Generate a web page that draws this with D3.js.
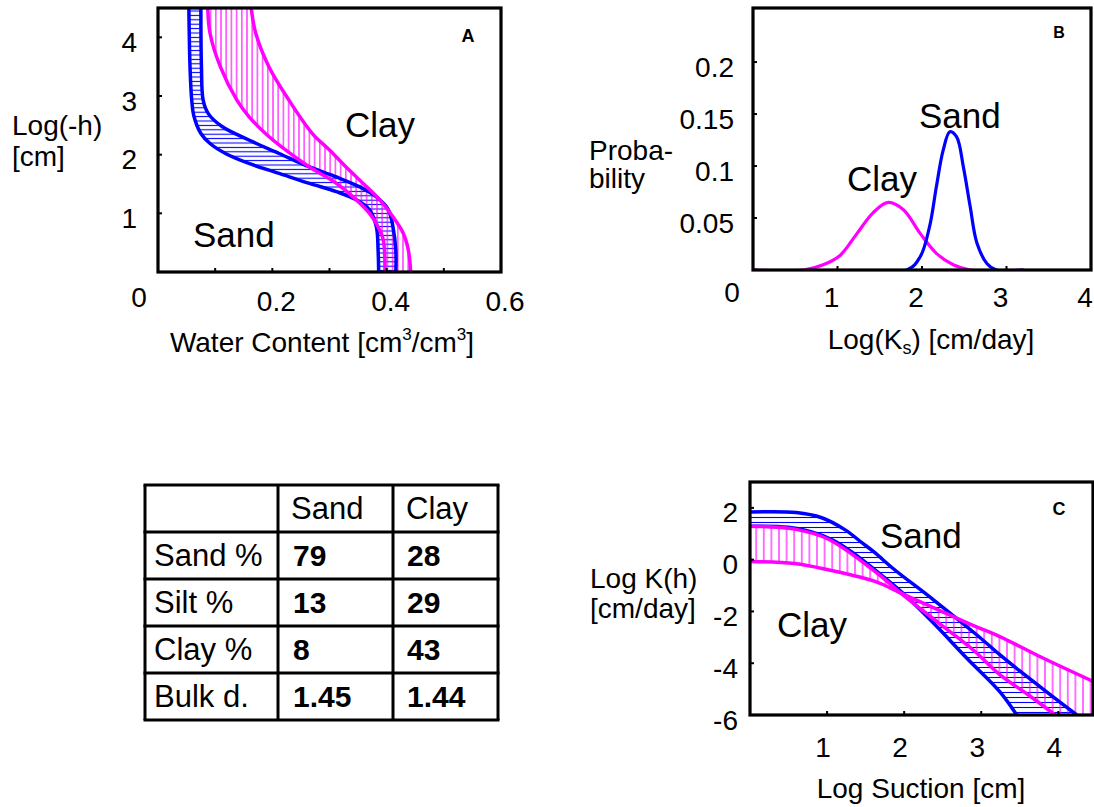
<!DOCTYPE html>
<html>
<head>
<meta charset="utf-8">
<script src="https://cdn.jsdelivr.net/npm/d3@7"></script>
<style>
  body { margin: 0; background: #fff; }
  svg text { font-family: "Liberation Sans", Arial, sans-serif; fill: #000; }
</style>
</head>
<body>
<svg id="chart" width="1094" height="807"></svg>
<script>

// ---- panel A : retention curves, [water content, log(-h)]
var sandRetLeft = [[0.054,4.5],[0.056,3.5],[0.059,2.93],[0.063,2.65],[0.075,2.36],[0.091,2.19],[0.118,2.02],
    [0.159,1.85],[0.212,1.68],[0.265,1.51],[0.312,1.37],[0.347,1.23],[0.370,1.06],[0.382,0.77],[0.385,0.37],[0.386,0]];
var sandRetRight = [[0.075,4.5],[0.076,3.5],[0.079,2.93],[0.088,2.70],[0.112,2.48],[0.159,2.25],[0.212,2.02],
    [0.265,1.79],[0.312,1.62],[0.353,1.45],[0.382,1.28],[0.403,1.06],[0.411,0.77],[0.416,0.37],[0.416,0]];
var clayRetLeft = [[0.087,4.5],[0.091,4.07],[0.109,3.5],[0.138,2.93],[0.159,2.65],[0.188,2.36],[0.223,2.08],
    [0.265,1.79],[0.312,1.51],[0.347,1.23],[0.370,1.0],[0.385,0.77],[0.394,0.55],[0.397,0]];
var clayRetRight = [[0.163,4.5],[0.171,4.07],[0.194,3.5],[0.229,2.93],[0.270,2.36],[0.300,2.08],[0.329,1.79],
    [0.359,1.51],[0.388,1.23],[0.411,0.94],[0.429,0.66],[0.438,0.37],[0.442,0]];
var aTicksX = [0.2, 0.4, 0.6];
var aTicksY = [1, 2, 3, 4];

// ---- panel B : probability of log(Ks)
var sandPdf = [[0,0],[1.82,0],[1.98,0.013],[2.09,0.042],[2.17,0.080],[2.25,0.115],[2.33,0.133],[2.41,0.128],
    [2.49,0.099],[2.57,0.061],[2.65,0.026],[2.77,0.006],[2.88,0],[3.2,0]];
var clayPdf = [[0,0],[0.60,0],[0.83,0.005],[1.03,0.014],[1.23,0.035],[1.42,0.055],[1.60,0.065],[1.78,0.058],
    [1.98,0.035],[2.17,0.016],[2.37,0.005],[2.57,0],[3.2,0]];
var bTicksX = [1, 2, 3, 4];
var bTicksY = [0.05, 0.1, 0.15, 0.2];

// ---- panel C : conductivity, [log suction, log K]
var sandKUpper = [[0,1.84],[0.6,1.82],[0.93,1.62],[1.23,1.16],[1.45,0.66],[1.62,0.27],[1.86,-0.35],[2.38,-1.55],
    [2.94,-2.9],[3.24,-3.67],[3.5,-4.3],[3.89,-5.2],[4.24,-6]];
var sandKLower = [[0,1.29],[0.5,1.25],[0.8,1.07],[1.08,0.75],[1.32,0.3],[1.62,-0.39],[1.95,-1.2],[2.38,-2.45],
    [2.81,-3.8],[3.24,-5.1],[3.46,-6]];
var clayKUpper = [[0,1.29],[0.58,1.18],[1.01,0.8],[1.62,-0.45],[2.0,-1.4],[2.45,-2.45],[2.9,-3.5],[3.24,-4.44],
    [3.6,-5.2],[3.96,-6]];
var clayKLower = [[0,-0.07],[0.58,-0.15],[1.01,-0.39],[1.62,-0.84],[2.0,-1.35],[2.45,-1.95],[2.9,-2.55],
    [3.24,-2.97],[3.8,-3.8],[4.45,-4.7]];
var cTicksX = [1, 2, 3, 4];
var cTicksY = [2, 0, -2, -4, -6];

// ---- table
var tableCols = ["", "Sand", "Clay"];
var tableRows = ["Sand %", "Silt %", "Clay %", "Bulk d."];
var sandProps = ["79", "13", "8", "1.45"];
var clayProps = ["28", "29", "43", "1.44"];

var BLUE = "#0000ff", PINK = "#ff00ff";
var FS = 28;   // tick labels and axis titles

var svg = d3.select("#chart");
var defs = svg.append("defs");

function hatch(id, color, dir, gap) {
    var p = defs.append("pattern").attr("id", id).attr("patternUnits", "userSpaceOnUse")
        .attr("width", dir == "h" ? 20 : gap).attr("height", dir == "h" ? gap : 20);
    if (dir == "h")
        p.append("line").attr("x1", 0).attr("x2", 20).attr("y1", gap / 2).attr("y2", gap / 2);
    else
        p.append("line").attr("y1", 0).attr("y2", 20).attr("x1", gap / 2).attr("x2", gap / 2);
    p.select("line").attr("stroke", color).attr("stroke-width", 1.1);
}
hatch("hA_sand", BLUE, "h", 4.4);
hatch("hA_clay", PINK, "v", 5.2);
hatch("hC_sand", BLUE, "h", 5);
hatch("hC_clay", PINK, "v", 7.6);

function pathOf(x, y, pts) {
    return d3.line().x(d => x(d[0])).y(d => y(d[1])).curve(d3.curveCatmullRom)(pts);
}
// area between two curves (second one walked backwards)
function band(x, y, a, b, corner) {
    var d = pathOf(x, y, a);
    if (corner) d += "L" + x(corner[0]) + "," + y(corner[1]);
    d += pathOf(x, y, b.slice().reverse()).replace(/^M/, "L");
    return d + "Z";
}

function frame(id, x, y) {
    var x0 = x.range()[0], x1 = x.range()[1], y0 = y.range()[1], y1 = y.range()[0];
    defs.append("clipPath").attr("id", id).append("rect")
        .attr("x", x0).attr("y", y0).attr("width", x1 - x0).attr("height", y1 - y0);
    return svg.append("g").attr("clip-path", "url(#" + id + ")");
}
function box(x, y, tx, ty) {
    var x0 = x.range()[0], x1 = x.range()[1], y0 = y.range()[1], y1 = y.range()[0];
    // small inside tick notches
    svg.append("g").selectAll("line").data(tx).join("line")
        .attr("x1", d => x(d)).attr("x2", d => x(d)).attr("y1", y1).attr("y2", y1 - 4)
        .attr("stroke", "#000").attr("stroke-width", 2);
    svg.append("g").selectAll("line").data(ty).join("line")
        .attr("y1", d => y(d)).attr("y2", d => y(d)).attr("x1", x0).attr("x2", x0 + 4)
        .attr("stroke", "#000").attr("stroke-width", 2);
    svg.append("rect").attr("x", x0).attr("y", y0).attr("width", x1 - x0).attr("height", y1 - y0)
        .attr("fill", "none").attr("stroke", "#000").attr("stroke-width", 3.2);
}
function label(txt, x, y, size, anchor, weight) {
    return svg.append("text").attr("x", x).attr("y", y).attr("font-size", size)
        .attr("text-anchor", anchor || "start").attr("font-weight", weight || "normal").text(txt);
}
function tickLabels(vals, fx, fy, anchor, fmt) {
    svg.append("g").selectAll("text").data(vals).join("text")
        .attr("x", fx).attr("y", fy).attr("font-size", FS).attr("text-anchor", anchor)
        .attr("dominant-baseline", "central").text(fmt || (d => d));
}

// ================= panel A
var xA = d3.scaleLinear().domain([0, 0.6]).range([158, 501]);
var yA = d3.scaleLinear().domain([0, 4.5]).range([272, 8]);
var gA = frame("clipA", xA, yA);
gA.append("path").attr("d", band(xA, yA, sandRetLeft, sandRetRight)).attr("fill", "url(#hA_sand)");
gA.append("path").attr("d", band(xA, yA, clayRetLeft, clayRetRight)).attr("fill", "url(#hA_clay)");
[sandRetLeft, sandRetRight].forEach(function (c) {
    gA.append("path").attr("d", pathOf(xA, yA, c)).attr("fill", "none").attr("stroke", BLUE).attr("stroke-width", 3.5);
});
[clayRetLeft, clayRetRight].forEach(function (c) {
    gA.append("path").attr("d", pathOf(xA, yA, c)).attr("fill", "none").attr("stroke", PINK).attr("stroke-width", 3.5);
});
box(xA, yA, [0.1, 0.2, 0.3, 0.4, 0.5], aTicksY);
tickLabels(aTicksY, 137, d => yA(d) + 5, "end");
tickLabels(aTicksX, d => xA(d) + 4, 301, "middle", d3.format(".1f"));
label("0", xA(0) - 19, yA(0) + 35, FS, "middle");
label("A", 468, 42, 18, "middle", "bold");
label("Clay", 345, 137, 35);
label("Sand", 193, 247, 35);
label("Log(-h)", 12, 135, FS);
label("[cm]", 12, 166, FS);
var tA = label("Water Content [cm", 322, 352, FS, "middle");
tA.append("tspan").attr("font-size", 17).attr("dy", -12).text("3");
tA.append("tspan").attr("dy", 12).text("/cm");
tA.append("tspan").attr("font-size", 17).attr("dy", -12).text("3");
tA.append("tspan").attr("dy", 12).text("]");

// ================= panel B
var xB = d3.scaleLinear().domain([0, 4]).range([753, 1091]);
var yB = d3.scaleLinear().domain([0, 0.252]).range([270, 8]);
var gB = frame("clipB", xB, yB);
gB.append("path").attr("d", pathOf(xB, yB, clayPdf)).attr("fill", "none").attr("stroke", PINK).attr("stroke-width", 3.2);
gB.append("path").attr("d", pathOf(xB, yB, sandPdf)).attr("fill", "none").attr("stroke", BLUE).attr("stroke-width", 3.2);
box(xB, yB, [1, 2, 3], bTicksY);
tickLabels(bTicksY, 734, d => yB(d) + 5, "end");
tickLabels(bTicksX, d => xB(d) - 6, 297, "middle");
label("0", xB(0) - 21, yB(0) + 32, FS, "middle");
label("B", 1059, 38, 16, "middle", "bold");
label("Sand", 919, 128, 35);
label("Clay", 847, 191, 35);
label("Proba-", 589, 160, FS);
label("bility", 589, 188, FS);
var tB = label("Log(K", 931, 349, FS, "middle");
tB.append("tspan").attr("font-size", 18).attr("dy", 5).text("s");
tB.append("tspan").attr("dy", -5).text(") [cm/day]");

// ================= panel C
var xC = d3.scaleLinear().domain([0, 4.45]).range([750, 1093]);
var yC = d3.scaleLinear().domain([-6, 3]).range([715, 482]);
var gC = frame("clipC", xC, yC);
gC.append("path").attr("d", band(xC, yC, sandKUpper, sandKLower)).attr("fill", "url(#hC_sand)");
gC.append("path").attr("d", band(xC, yC, clayKUpper, clayKLower, [4.45, -6])).attr("fill", "url(#hC_clay)");
[sandKUpper, sandKLower].forEach(function (c) {
    gC.append("path").attr("d", pathOf(xC, yC, c)).attr("fill", "none").attr("stroke", BLUE).attr("stroke-width", 3.5);
});
[clayKUpper, clayKLower].forEach(function (c) {
    gC.append("path").attr("d", pathOf(xC, yC, c)).attr("fill", "none").attr("stroke", PINK).attr("stroke-width", 3.5);
});
box(xC, yC, [1, 2, 3, 4], cTicksY);
tickLabels(cTicksY, 738, d => yC(d) + 5, "end");
tickLabels(cTicksX, d => xC(d) - 4, 747, "middle");
label("C", 1059, 515, 18, "middle", "bold");
label("Sand", 880, 548, 35);
label("Clay", 777, 637, 35);
label("Log K(h)", 590, 588, FS);
label("[cm/day]", 590, 618, FS);
label("Log Suction [cm]", 921, 798, FS, "middle");

// ================= table
var colX = d3.scaleOrdinal().domain(tableCols).range([145, 278, 393]);
var colEnd = 498;
var rowY = d3.scaleBand().domain(d3.range(tableRows.length + 1)).range([485, 720]);
var tb = svg.append("g");
rowY.domain().concat([tableRows.length + 1]).forEach(function (i) {
    var yy = i <= tableRows.length ? rowY(i) : rowY.range()[1];
    tb.append("line").attr("x1", 143.5).attr("x2", colEnd + 1.5).attr("y1", yy).attr("y2", yy)
        .attr("stroke", "#000").attr("stroke-width", 3);
});
colX.range().concat([colEnd]).forEach(function (xx) {
    tb.append("line").attr("x1", xx).attr("x2", xx).attr("y1", rowY.range()[0]).attr("y2", rowY.range()[1])
        .attr("stroke", "#000").attr("stroke-width", 3);
});
var bl = rowY.bandwidth() * 0.72;
tableCols.slice(1).forEach(function (c) {
    tb.append("text").attr("x", colX(c) + 13).attr("y", rowY(0) + bl).attr("font-size", 31).text(c);
});
tableRows.forEach(function (r, i) {
    tb.append("text").attr("x", colX("") + 9).attr("y", rowY(i + 1) + bl).attr("font-size", 31).text(r);
    tb.append("text").attr("x", colX("Sand") + 15).attr("y", rowY(i + 1) + bl).attr("font-size", 30)
        .attr("font-weight", "bold").text(sandProps[i]);
    tb.append("text").attr("x", colX("Clay") + 14).attr("y", rowY(i + 1) + bl).attr("font-size", 30)
        .attr("font-weight", "bold").text(clayProps[i]);
});
</script>
</body>
</html>
